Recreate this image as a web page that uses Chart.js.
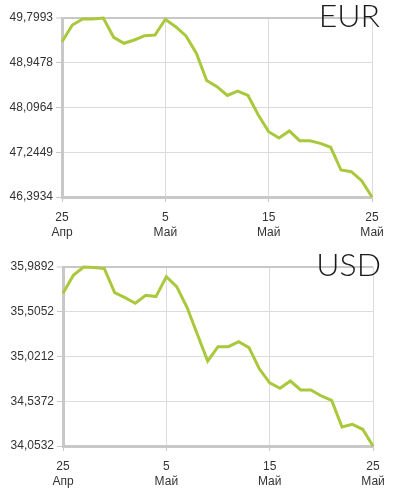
<!DOCTYPE html>
<html>
<head>
<meta charset="utf-8">
<script src="https://cdn.jsdelivr.net/npm/chart.js@4.4.1/dist/chart.umd.min.js"></script>
<style>
  html, body { margin: 0; padding: 0; background: #fff; }
  canvas { display: block; }
</style>
</head>
<body>
<canvas id="eur" width="394" height="249"></canvas>
<canvas id="usd" width="394" height="249"></canvas>
<script>
var days = [
  '25 Апр', '26 Апр', '27 Апр', '28 Апр', '29 Апр', '30 Апр',
  '1 Май', '2 Май', '3 Май', '4 Май', '5 Май', '6 Май', '7 Май', '8 Май', '9 Май',
  '10 Май', '11 Май', '12 Май', '13 Май', '14 Май', '15 Май', '16 Май', '17 Май',
  '18 Май', '19 Май', '20 Май', '21 Май', '22 Май', '23 Май', '24 Май', '25 Май'
];
var labelEvery = 10;

var eurValues = [
  49.348, 49.666, 49.780, 49.780, 49.7993, 49.432, 49.318, 49.381, 49.463, 49.476,
  49.775, 49.634, 49.457, 49.128, 48.610, 48.492, 48.325, 48.410, 48.325, 47.954,
  47.636, 47.516, 47.649, 47.465, 47.465, 47.415, 47.339, 46.907, 46.875, 46.704,
  46.3934
];
var eurTicks = [46.3934, 47.2449, 48.0964, 48.9478, 49.7993];
var eurTickLabels = ['46,3934', '47,2449', '48,0964', '48,9478', '49,7993'];

var usdValues = [
  35.705, 35.899, 35.9892, 35.985, 35.972, 35.712, 35.658, 35.597, 35.683, 35.669,
  35.885, 35.777, 35.553, 35.261, 34.972, 35.128, 35.128, 35.182, 35.117, 34.888,
  34.736, 34.677, 34.756, 34.659, 34.659, 34.594, 34.547, 34.259, 34.288, 34.234,
  34.0532
];
var usdTicks = [34.0532, 34.5372, 35.0212, 35.5052, 35.9892];
var usdTickLabels = ['34,0532', '34,5372', '35,0212', '35,5052', '35,9892'];

var cornerTitle = {
  id: 'cornerTitle',
  afterDraw: function (chart, args, opts) {
    var ctx = chart.ctx;
    ctx.save();
    ctx.font = '300 32px "Lato", "Open Sans", sans-serif';
    ctx.fillStyle = '#1a1a1a';
    ctx.textAlign = 'right';
    ctx.textBaseline = 'alphabetic';
    ctx.fillText(opts.text, chart.chartArea.right + 8, chart.chartArea.top + 8.5);
    ctx.restore();
  }
};

function makeChart(el, title, values, ticks, tickLabels, left, right) {
  var last = days.length - 1;
  return new Chart(document.getElementById(el), {
    type: 'line',
    data: {
      labels: days,
      datasets: [{
        data: values,
        borderColor: '#a9c83b',
        borderWidth: 3,
        pointRadius: 0,
        tension: 0,
        fill: false,
        clip: 4
      }]
    },
    plugins: [cornerTitle],
    options: {
      responsive: false,
      devicePixelRatio: 1,
      animation: false,
      layout: { padding: { top: 18, right: 394 - right, left: 0, bottom: 0 } },
      plugins: {
        legend: { display: false },
        tooltip: { enabled: false },
        cornerTitle: { text: title }
      },
      scales: {
        x: {
          offset: false,
          afterFit: function (scale) { scale.height = 52; },
          border: { color: '#c8c8c8', width: 3 },
          grid: {
            color: function (c) { return c.index === last ? '#c8c8c8' : '#dcdcdc'; },
            lineWidth: function (c) { return c.index === last ? 3 : 1; },
            tickColor: '#c8c8c8',
            tickWidth: 1,
            tickLength: 5
          },
          ticks: {
            autoSkip: false,
            maxRotation: 0,
            padding: 8,
            color: '#333',
            font: { family: '"Liberation Sans", Arial, sans-serif', size: 12, lineHeight: 1.25 },
            callback: function (v, i) {
              if (i % labelEvery !== 0) return null;
              return days[i].split(' ');
            }
          }
        },
        y: {
          min: ticks[0],
          max: ticks[ticks.length - 1],
          afterFit: function (scale) { scale.width = left; },
          afterBuildTicks: function (scale) {
            scale.ticks = ticks.map(function (v) { return { value: v }; });
          },
          border: { color: '#c8c8c8', width: 3 },
          grid: {
            color: function (c) { return c.index === ticks.length - 1 ? '#c8c8c8' : '#dcdcdc'; },
            lineWidth: function (c) { return c.index === ticks.length - 1 ? 2 : 1; },
            tickColor: '#c8c8c8',
            tickWidth: 1,
            tickLength: 6
          },
          ticks: {
            padding: 3,
            color: '#333',
            font: { family: '"Liberation Sans", Arial, sans-serif', size: 12 },
            callback: function (v, i) { return tickLabels[i]; }
          }
        }
      }
    }
  });
}

makeChart('eur', 'EUR', eurValues, eurTicks, eurTickLabels, 62, 372);
makeChart('usd', 'USD', usdValues, usdTicks, usdTickLabels, 63, 373);
</script>
</body>
</html>
